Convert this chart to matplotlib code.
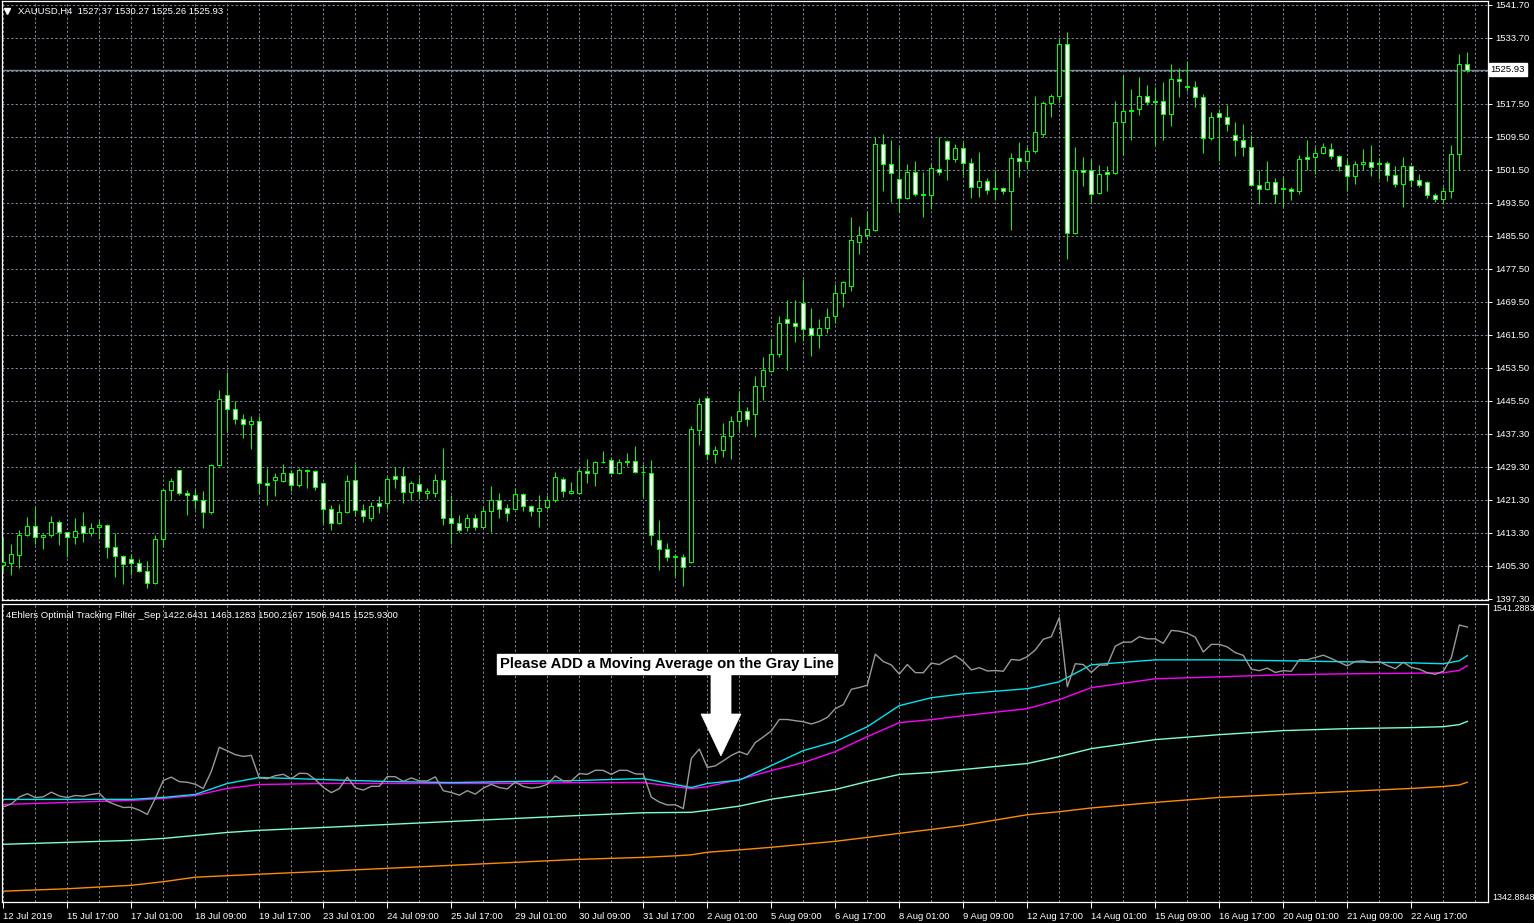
import numpy as np
import matplotlib.pyplot as plt
from matplotlib.patches import Polygon
import matplotlib.transforms as mtransforms

# --- XAUUSD H4 candles ---
opens = [1405.5, 1405.9, 1407.9, 1412.8, 1415.0, 1412.4, 1412.8, 1416.0, 1413.5, 1412.4,
         1414.9, 1413.3, 1414.8, 1415.3, 1409.9, 1407.7, 1407.0, 1406.0, 1404.1, 1401.0,
         1411.8, 1423.8, 1428.5, 1423.0, 1422.6, 1421.3, 1418.3, 1429.8, 1446.9, 1443.5,
         1441.0, 1439.8, 1440.5, 1425.5, 1426.2, 1425.8, 1427.9, 1425.0, 1428.7, 1428.4,
         1425.5, 1419.2, 1415.7, 1418.3, 1426.2, 1418.9, 1416.9, 1420.6, 1420.5, 1427.1,
         1427.1, 1423.2, 1425.1, 1423.0, 1422.9, 1426.2, 1417.0, 1415.8, 1414.7, 1417.0,
         1414.7, 1418.6, 1421.2, 1419.3, 1419.1, 1422.8, 1419.9, 1418.7, 1419.6, 1421.2,
         1426.4, 1423.0, 1422.9, 1428.4, 1427.8, 1430.6, 1430.9, 1427.8, 1430.8, 1430.8,
         1428.1, 1427.8, 1411.5, 1409.4, 1407.5, 1407.4, 1406.2, 1438.4, 1446.1, 1432.5,
         1433.5, 1436.9, 1440.5, 1443.0, 1442.2, 1449.0, 1452.6, 1456.7, 1465.2, 1464.4,
         1469.2, 1463.1, 1461.4, 1463.1, 1466.0, 1471.6, 1473.4, 1484.0, 1485.7, 1487.0,
         1507.9, 1503.0, 1499.3, 1494.6, 1501.0, 1495.6, 1495.4, 1501.8, 1508.6, 1504.1,
         1506.9, 1503.2, 1497.4, 1498.9, 1497.1, 1497.2, 1496.4, 1504.5, 1503.7, 1506.1,
         1510.2, 1517.8, 1519.5, 1532.2, 1486.2, 1501.5, 1501.5, 1495.9, 1501.0, 1500.7,
         1513.2, 1516.0, 1516.3, 1519.5, 1518.3, 1518.3, 1515.1, 1523.7, 1521.9, 1521.6,
         1519.3, 1509.3, 1515.4, 1514.4, 1510.1, 1508.9, 1507.2, 1497.9, 1496.9, 1498.6,
         1496.9, 1496.9, 1496.5, 1504.7, 1504.7, 1505.7, 1506.7, 1505.0, 1502.8, 1500.1,
         1503.0, 1503.5, 1503.2, 1503.3, 1500.4, 1498.2, 1502.5, 1499.1, 1498.6, 1495.5,
         1494.4, 1496.4, 1505.4, 1527.37]
highs = [1412.4, 1410.5, 1413.9, 1417.1, 1419.7, 1413.0, 1417.3, 1416.5, 1413.6, 1417.0,
         1418.3, 1415.8, 1416.5, 1415.5, 1413.2, 1407.8, 1408.2, 1407.0, 1406.4, 1412.7,
         1424.0, 1426.7, 1428.6, 1423.8, 1424.0, 1423.4, 1430.1, 1448.1, 1452.5, 1445.3,
         1442.2, 1441.8, 1441.8, 1429.1, 1427.8, 1430.1, 1428.6, 1429.1, 1428.8, 1428.5,
         1425.6, 1420.0, 1420.2, 1427.3, 1430.1, 1420.2, 1420.9, 1422.2, 1426.8, 1429.3,
         1429.4, 1425.8, 1426.8, 1424.3, 1427.6, 1433.9, 1422.6, 1417.6, 1418.0, 1417.8,
         1419.9, 1424.8, 1423.1, 1420.2, 1424.3, 1423.1, 1420.0, 1422.4, 1422.6, 1428.2,
         1427.0, 1425.6, 1429.1, 1431.2, 1430.7, 1433.3, 1431.8, 1431.3, 1432.8, 1434.4,
         1430.1, 1430.9, 1416.5, 1410.9, 1408.2, 1408.2, 1439.3, 1446.1, 1446.5, 1434.4,
         1440.1, 1441.8, 1447.9, 1443.9, 1451.5, 1456.0, 1460.5, 1466.1, 1469.8, 1469.8,
         1475.0, 1468.0, 1465.3, 1468.0, 1473.8, 1474.5, 1490.2, 1488.0, 1491.4, 1509.5,
         1510.3, 1508.9, 1507.2, 1503.0, 1503.8, 1501.1, 1503.0, 1509.5, 1508.9, 1507.9,
         1508.4, 1504.5, 1505.9, 1499.6, 1501.4, 1497.5, 1505.6, 1508.3, 1507.0, 1519.5,
         1518.2, 1520.0, 1533.3, 1535.1, 1507.0, 1504.6, 1504.2, 1502.8, 1502.6, 1518.4,
         1524.5, 1521.1, 1524.2, 1522.3, 1521.8, 1522.8, 1527.2, 1526.4, 1528.1, 1523.1,
         1520.0, 1515.5, 1516.4, 1517.4, 1513.1, 1512.7, 1510.0, 1501.4, 1503.6, 1499.6,
         1499.8, 1497.5, 1505.2, 1508.7, 1507.2, 1508.1, 1508.1, 1505.2, 1504.5, 1503.8,
         1506.5, 1507.5, 1504.5, 1503.7, 1502.4, 1504.6, 1502.8, 1500.6, 1498.9, 1496.0,
         1497.5, 1507.7, 1529.6, 1530.27]
lows = [1404.0, 1403.0, 1404.7, 1412.5, 1410.5, 1409.4, 1412.3, 1410.3, 1407.4, 1410.6,
        1411.0, 1412.5, 1411.8, 1407.2, 1402.5, 1400.8, 1403.1, 1403.7, 1399.9, 1400.8,
        1409.8, 1421.4, 1422.6, 1417.6, 1419.1, 1414.5, 1417.9, 1429.6, 1438.0, 1439.8,
        1436.3, 1433.6, 1422.8, 1420.1, 1422.3, 1425.7, 1423.6, 1424.4, 1424.2, 1423.8,
        1415.7, 1414.1, 1415.4, 1418.1, 1417.6, 1416.0, 1416.2, 1418.2, 1419.1, 1424.1,
        1420.6, 1421.3, 1421.5, 1421.5, 1421.9, 1415.1, 1410.5, 1413.5, 1413.7, 1414.0,
        1414.5, 1413.5, 1417.0, 1416.2, 1419.0, 1418.6, 1417.4, 1414.7, 1419.0, 1420.9,
        1421.9, 1422.7, 1422.8, 1425.4, 1424.6, 1430.3, 1427.6, 1427.5, 1429.6, 1427.8,
        1422.0, 1410.4, 1404.3, 1406.5, 1402.8, 1400.4, 1406.0, 1434.7, 1430.9, 1430.2,
        1431.8, 1431.2, 1438.0, 1439.4, 1436.6, 1445.6, 1452.4, 1456.0, 1452.9, 1459.7,
        1459.9, 1456.3, 1458.2, 1462.0, 1464.3, 1468.2, 1472.1, 1481.0, 1484.7, 1486.8,
        1496.5, 1493.7, 1491.4, 1494.5, 1495.3, 1490.0, 1492.1, 1500.4, 1499.0, 1503.4,
        1500.2, 1494.6, 1494.9, 1495.6, 1494.3, 1495.7, 1486.9, 1499.8, 1501.7, 1505.6,
        1509.6, 1514.3, 1518.2, 1479.8, 1486.0, 1497.7, 1493.7, 1495.7, 1496.5, 1500.6,
        1505.2, 1508.9, 1514.8, 1517.2, 1507.7, 1508.7, 1512.1, 1519.2, 1520.8, 1516.8,
        1505.6, 1508.7, 1503.7, 1511.0, 1504.9, 1504.9, 1497.8, 1493.2, 1496.6, 1493.5,
        1492.5, 1494.3, 1495.7, 1501.4, 1500.6, 1505.4, 1504.1, 1501.3, 1496.4, 1498.1,
        1501.6, 1500.0, 1499.4, 1498.8, 1497.4, 1492.5, 1497.4, 1497.4, 1494.8, 1493.8,
        1493.5, 1494.8, 1501.6, 1525.26]
closes = [1406.3, 1408.1, 1412.8, 1415.0, 1412.4, 1412.9, 1416.0, 1413.5, 1412.4, 1413.8,
          1413.3, 1414.5, 1415.3, 1409.9, 1407.7, 1405.8, 1406.0, 1404.0, 1401.2, 1411.9,
          1423.8, 1426.0, 1423.0, 1422.6, 1421.3, 1418.4, 1429.8, 1445.9, 1443.5, 1441.0,
          1439.8, 1440.5, 1425.5, 1425.0, 1427.0, 1427.9, 1425.0, 1428.6, 1428.4, 1424.4,
          1419.2, 1415.7, 1418.4, 1426.0, 1418.9, 1417.4, 1419.9, 1419.9, 1426.4, 1426.3,
          1423.2, 1425.5, 1423.5, 1423.5, 1426.2, 1417.0, 1415.8, 1414.0, 1417.0, 1414.7,
          1418.7, 1421.2, 1419.1, 1418.2, 1422.8, 1419.8, 1418.7, 1419.4, 1421.2, 1426.8,
          1423.5, 1423.5, 1428.4, 1427.9, 1430.6, 1430.5, 1427.8, 1430.6, 1430.5, 1428.2,
          1428.0, 1412.7, 1409.4, 1407.5, 1407.6, 1405.1, 1438.5, 1444.7, 1432.5, 1433.5,
          1436.9, 1440.5, 1443.0, 1441.0, 1449.0, 1452.8, 1456.8, 1464.4, 1464.4, 1463.6,
          1462.9, 1461.4, 1463.1, 1465.8, 1471.6, 1474.3, 1484.5, 1485.7, 1487.2, 1507.9,
          1503.0, 1500.7, 1494.6, 1501.0, 1495.6, 1495.5, 1502.0, 1501.0, 1504.2, 1506.9,
          1503.2, 1497.4, 1498.9, 1496.7, 1497.0, 1496.5, 1504.4, 1503.8, 1506.2, 1510.7,
          1517.8, 1519.5, 1532.2, 1486.2, 1501.5, 1501.0, 1495.7, 1500.6, 1500.6, 1513.2,
          1515.9, 1515.9, 1519.5, 1518.1, 1518.1, 1515.1, 1523.7, 1523.2, 1521.8, 1519.2,
          1509.3, 1514.4, 1514.4, 1512.7, 1508.9, 1507.1, 1497.9, 1496.9, 1498.6, 1495.7,
          1496.9, 1496.5, 1504.2, 1504.2, 1505.7, 1507.2, 1505.0, 1502.5, 1500.1, 1503.0,
          1503.5, 1502.3, 1502.9, 1500.4, 1498.2, 1502.5, 1499.1, 1497.9, 1495.5, 1494.5,
          1496.5, 1505.4, 1527.3, 1525.93]

date_labels = ['12 Jul 2019', '15 Jul 17:00', '17 Jul 01:00', '18 Jul 09:00', '19 Jul 17:00',
               '23 Jul 01:00', '24 Jul 09:00', '25 Jul 17:00', '29 Jul 01:00', '30 Jul 09:00',
               '31 Jul 17:00', '2 Aug 01:00', '5 Aug 09:00', '6 Aug 17:00', '8 Aug 01:00',
               '9 Aug 09:00', '12 Aug 17:00', '14 Aug 01:00', '15 Aug 09:00', '16 Aug 17:00',
               '20 Aug 01:00', '21 Aug 09:00', '22 Aug 17:00']
price_labels = ['1397.30', '1405.30', '1413.30', '1421.30', '1429.30', '1437.30', '1445.50',
                '1453.50', '1461.50', '1469.50', '1477.50', '1485.50', '1493.50', '1501.50',
                '1509.50', '1517.50', '', '1533.70', '1541.70']

# --- Ehlers Optimal Tracking Filter lines (sampled bars) ---
ind_idx = [0, 8, 16, 20, 24, 28, 32, 40, 48, 56, 64, 72, 80, 84, 86, 88, 92, 96, 100, 104,
           108, 112, 116, 120, 128, 132, 136, 144, 152, 160, 168, 176, 180, 182, 183]
orange_line = [1350.1, 1351.7, 1354.0, 1356.4, 1359.4, 1360.4, 1361.4, 1363.3, 1365.3, 1367.3,
               1369.3, 1371.3, 1372.6, 1373.6, 1374.3, 1376.0, 1377.6, 1379.3, 1381.3, 1383.3,
               1385.9, 1388.6, 1391.2, 1393.9, 1401.0, 1403.0, 1405.5, 1409.2, 1412.5, 1414.5,
               1416.5, 1418.5, 1419.8, 1420.8, 1422.64]
mint_line = [1381.3, 1382.6, 1383.9, 1385.2, 1387.2, 1389.2, 1390.6, 1392.5, 1394.5, 1396.5,
             1398.5, 1400.5, 1402.3, 1402.5, 1402.6, 1403.9, 1406.7, 1411.3, 1414.5, 1417.8,
             1423.1, 1427.8, 1429.1, 1431.1, 1435.1, 1439.7, 1445.0, 1451.0, 1454.3, 1457.0,
             1458.3, 1459.0, 1459.6, 1461.0, 1463.13]
magenta_line = [1407.8, 1409.2, 1410.5, 1411.8, 1413.8, 1418.5, 1421.1, 1421.8, 1421.8, 1421.8,
                1421.8, 1422.4, 1422.4, 1419.7, 1418.4, 1419.7, 1424.4, 1430.4, 1435.7, 1443.0,
                1453.0, 1462.3, 1464.3, 1466.9, 1471.6, 1477.6, 1485.6, 1491.5, 1492.8, 1494.2,
                1494.8, 1495.2, 1495.5, 1497.1, 1500.22]
cyan_line = [1411.2, 1411.2, 1411.2, 1412.5, 1414.5, 1421.8, 1425.8, 1424.4, 1423.1, 1422.4,
             1423.1, 1423.8, 1425.1, 1421.1, 1419.1, 1421.8, 1424.0, 1433.7, 1443.7, 1449.7,
             1459.6, 1473.6, 1478.9, 1481.5, 1484.9, 1489.5, 1500.8, 1504.1, 1504.1, 1503.5,
             1502.8, 1502.1, 1501.5, 1503.5, 1506.94]

W, H = 1534, 923
GRID = '#778899'
GREEN = '#00ff00'
FS = 6.8
plt.rcParams['font.family'] = ['Liberation Sans', 'DejaVu Sans']


def px_box(l, t, r, b):
    return [l / W, 1 - b / H, (r - l) / W, (b - t) / H]


fig = plt.figure(figsize=(W / 100, H / 100), dpi=100, facecolor='black')
ax1 = fig.add_axes(px_box(2, 1, 1488, 600))
ax2 = fig.add_axes(px_box(2, 604, 1488, 902))

n = len(closes)
x = np.arange(n)
o = np.array(opens)
c = np.array(closes)
h = np.array(highs)
l = np.array(lows)
xlim = ((2 - 3.3) / 8, (1488 - 3.3) / 8)

for ax in (ax1, ax2):
    ax.set_facecolor('black')
    ax.set_xlim(*xlim)
    for s in ax.spines.values():
        s.set_color('white')
        s.set_linewidth(0.9)
    ax.set_xticks(np.arange(0, n + 1, 4), minor=True)
    ax.set_xticks(np.arange(0, len(date_labels) * 8, 8))
    ax.grid(True, which='both', axis='x', color=GRID, ls=(0, (2.2, 2.2)), lw=0.72)
    ax.tick_params(which='minor', length=0)
    ax.set_axisbelow(True)

# --- main price panel ---
ax1.set_ylim(1396.98, 1542.6)
ax1.vlines(x, l, h, color=GREEN, lw=0.75, zorder=3)
up = c >= o
body_bottom = np.minimum(o, c)
body_height = np.maximum(np.abs(c - o), 0.12)
ax1.bar(x, body_height, bottom=body_bottom, width=0.5,
        color=np.where(up, 'black', 'white'), edgecolor=GREEN, linewidth=0.75, zorder=4)

yt = np.linspace(1397.3, 1541.7, 19)
ax1.set_yticks(yt)
ax1.set_yticklabels(price_labels)
ax1.yaxis.tick_right()
ax1.grid(True, axis='y', color=GRID, ls=(0, (2.2, 2.2)), lw=0.72)
ax1.tick_params(axis='y', colors='white', direction='out', length=3, width=0.72,
                labelsize=FS, pad=2)
ax1.tick_params(axis='x', which='both', length=0, labelbottom=False)

ax1.axhline(closes[-1], color=GRID, lw=1.0, zorder=2)
bt = mtransforms.blended_transform_factory(ax1.transAxes, ax1.transData)
ax1.text(1.0018, closes[-1], f'{closes[-1]:.2f}', transform=bt, ha='left', va='center',
         color='black', fontsize=FS,
         bbox=dict(boxstyle='square,pad=0.2', fc='white', ec='white'))

ax1.plot([0.0035], [0.983], marker='v', ms=4.5, color='white', transform=ax1.transAxes,
         clip_on=False)
ax1.text(0.0105, 0.983, 'XAUUSD,H4  1527.37 1530.27 1525.26 1525.93', transform=ax1.transAxes,
         color='white', fontsize=FS, va='center', ha='left')

# --- indicator panel ---
ax2.set_ylim(1342.8848, 1541.2883)
ax2.plot(ind_idx, orange_line, color='#ff8c00', lw=1)
ax2.plot(ind_idx, mint_line, color='#7fffd4', lw=1)
ax2.plot(ind_idx, magenta_line, color='#ff00ff', lw=1)
ax2.plot(ind_idx, cyan_line, color='#00e5ee', lw=1)
ax2.plot(x, c, color='#9a9a9a', lw=1)

ax2.set_yticks([])
ax2.set_xticklabels(date_labels)
for lab in ax2.get_xticklabels():
    lab.set_ha('left')
ax2.tick_params(axis='x', which='major', colors='white', direction='out', length=4,
                width=0.72, labelsize=FS, pad=3)

bt2 = mtransforms.blended_transform_factory(ax2.transAxes, ax2.transData)
ax2.text(1.003, 1541.2883, '1541.2883', transform=bt2, color='white', fontsize=6.5,
         ha='left', va='top')
ax2.text(1.003, 1342.8848, '1342.8848', transform=bt2, color='white', fontsize=6.5,
         ha='left', va='bottom')
ax2.text(0.003, 0.975, '4Ehlers Optimal Tracking Filter _Sep 1422.6431 1463.1283 1500.2167 '
         '1506.9415 1525.9300', transform=ax2.transAxes, color='white', fontsize=FS,
         ha='left', va='top')

# annotation box and arrow
ax2.text(0.4475, 0.80, 'Please ADD a Moving Average on the Gray Line', transform=ax2.transAxes,
         family=['Liberation Sans', 'DejaVu Sans'], fontweight='bold', fontsize=10.7,
         color='black', ha='center', va='center',
         bbox=dict(boxstyle='square,pad=0.2', fc='white', ec='white'), zorder=6)
arrow = Polygon([(0.4771, 0.7617), (0.4906, 0.7617), (0.4906, 0.6309), (0.4973, 0.6309),
                 (0.4838, 0.4899), (0.4704, 0.6309), (0.4771, 0.6309)],
                closed=True, transform=ax2.transAxes, fc='white', ec='white', lw=0.5, zorder=6)
ax2.add_patch(arrow)

fig.savefig('out.png', dpi=100, facecolor='black')
